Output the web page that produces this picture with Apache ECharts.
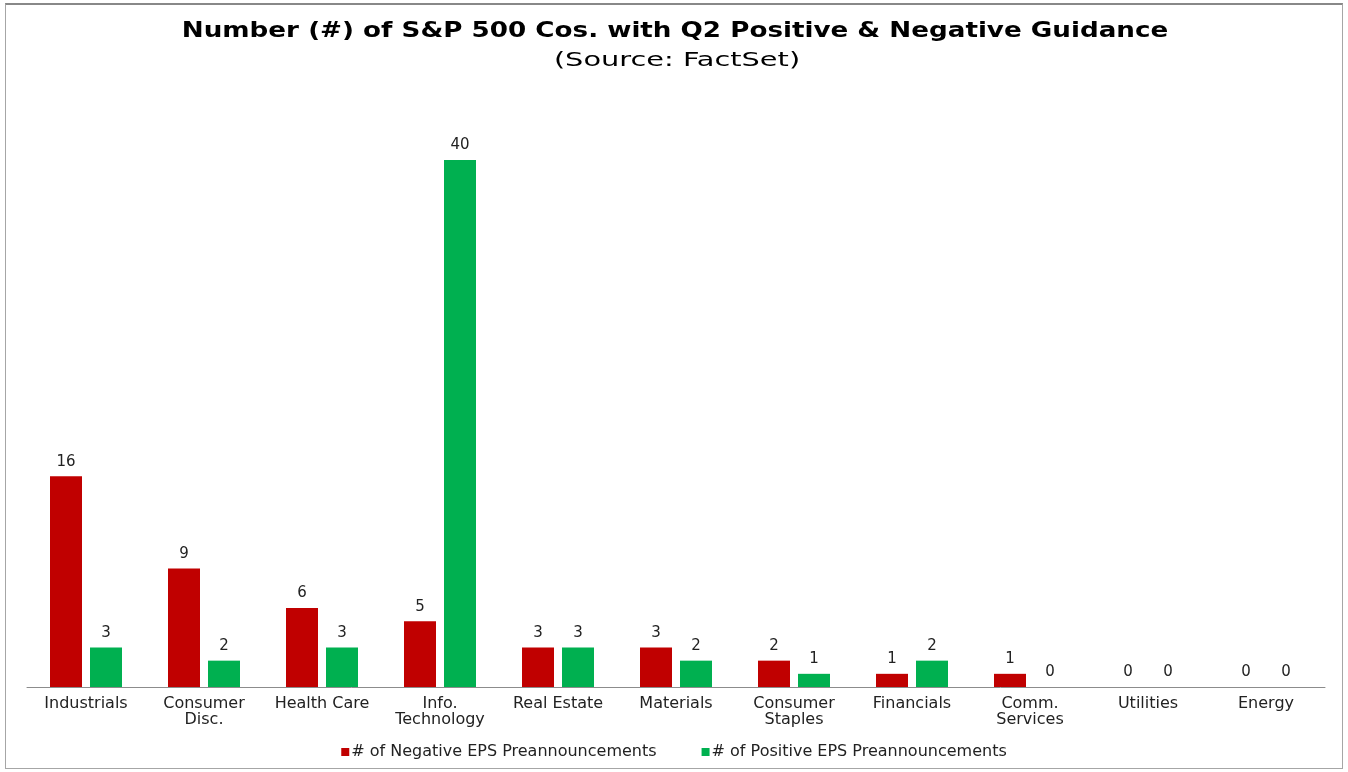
<!DOCTYPE html>
<html>
<head>
<meta charset="utf-8">
<script src="https://cdn.jsdelivr.net/npm/echarts@6/dist/echarts.min.js"></script>
<style>
  html, body { margin: 0; padding: 0; background: #fff; }
  #chart { position: absolute; left: 5px; top: 3px; width: 1338px; height: 766px; border: 1px solid #a6a6a6; border-top: 2px solid #888; box-sizing: border-box; }
</style>
</head>
<body>
<div id="chart"></div>
<script>
const sectors = ['Industrials', 'Consumer\nDisc.', 'Health Care', 'Info.\nTechnology', 'Real Estate', 'Materials', 'Consumer\nStaples', 'Financials', 'Comm.\nServices', 'Utilities', 'Energy'];
const negative = [16, 9, 6, 5, 3, 3, 2, 1, 1, 0, 0];
const positive = [3, 2, 3, 40, 3, 2, 1, 2, 0, 0, 0];

const chart = echarts.init(document.getElementById('chart'));
const font = '"DejaVu Sans", Arial, sans-serif';

const label = { show: true, position: 'top', color: '#222', fontSize: 15, fontFamily: font, distance: 7 };

chart.setOption({
  animation: false,
  graphic: [
    { type: 'text', x: 669, y: 15, scaleX: 1.19,
      style: { text: 'Number (#) of S&P 500 Cos. with Q2 Positive & Negative Guidance', align: 'center',
        font: 'bold 22px "DejaVu Sans", Arial, sans-serif', fill: '#000' } },
    { type: 'text', x: 671, y: 46, scaleX: 1.44,
      style: { text: '(Source: FactSet)', align: 'center',
        font: '20px "DejaVu Sans", Arial, sans-serif', fill: '#000' } }
  ],
  legend: {
    bottom: 3, left: 'center', itemWidth: 8, itemHeight: 8, itemGap: 45,
    icon: 'rect',
    textStyle: { fontFamily: font, fontSize: 16, color: '#222', padding: [0, 0, 0, -3] }
  },
  grid: { left: 21, right: 17, top: 155, bottom: 81 },
  xAxis: {
    type: 'category', data: sectors,
    axisLine: { lineStyle: { color: '#8c8c8c', width: 1 } },
    axisTick: { show: false },
    axisLabel: { fontFamily: font, fontSize: 16, color: '#222', margin: 9, lineHeight: 16, interval: 0 }
  },
  yAxis: { type: 'value', min: 0, max: 40, show: false, splitLine: { show: false } },
  series: [
    { name: '# of Negative EPS Preannouncements', type: 'bar', data: negative, barWidth: 32, barGap: '25%',
      itemStyle: { color: '#c00000' }, label },
    { name: '# of Positive EPS Preannouncements', type: 'bar', data: positive, barWidth: 32,
      itemStyle: { color: '#00b050' }, label }
  ]
});
</script>
</body>
</html>
